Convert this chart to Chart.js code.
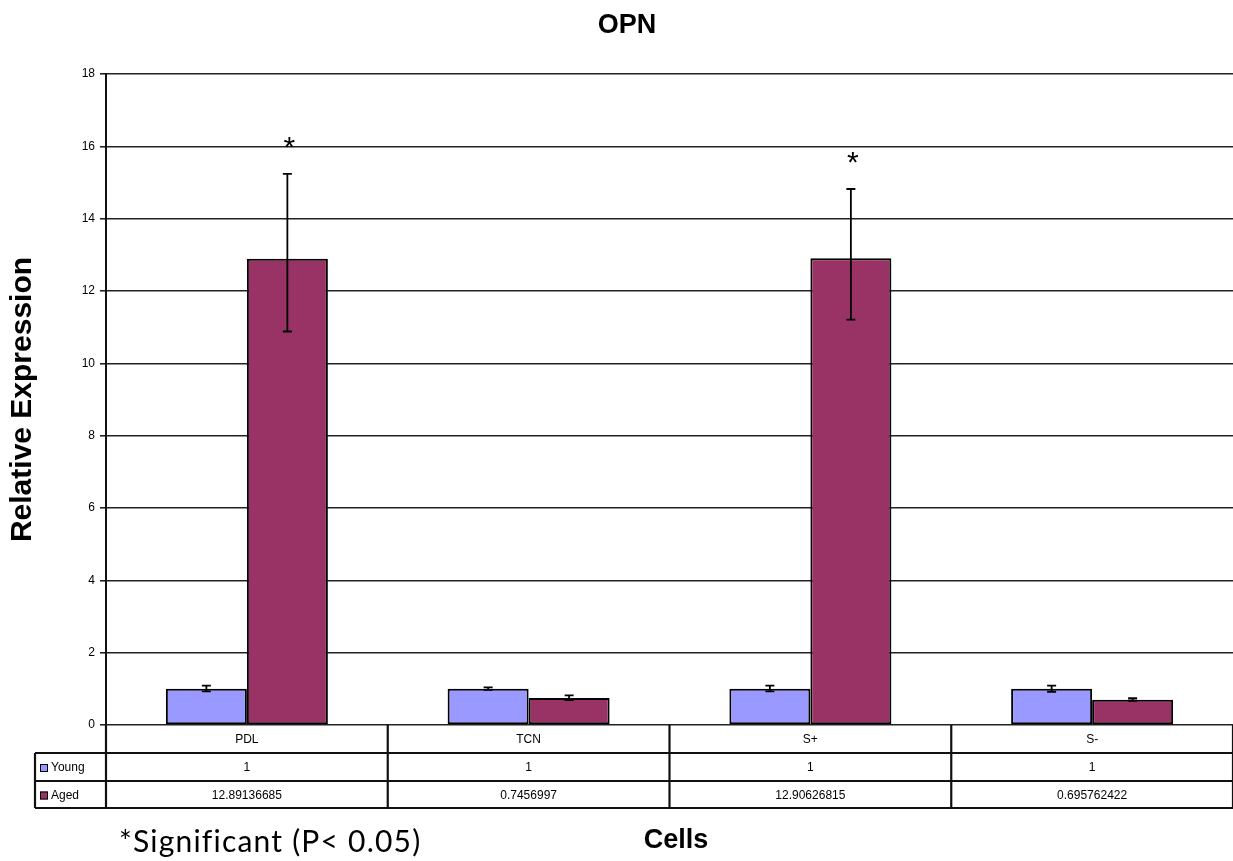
<!DOCTYPE html>
<html>
<head>
<meta charset="utf-8">
<title>OPN</title>
<script src="https://cdn.jsdelivr.net/npm/chart.js@4.4.1/dist/chart.umd.min.js"></script>
<style>
  html, body { margin: 0; padding: 0; background: #fff; }
  #wrap { width: 1233px; height: 861px; position: relative; }
</style>
</head>
<body>
<div id="wrap"><canvas id="chart" width="1233" height="861"></canvas></div>
<script>
// Cell types on the category axis
const categories = ['PDL', 'TCN', 'S+', 'S-'];

// Mean relative expression per group
const youngValues = [1, 1, 1, 1];
const agedValues = [12.89136685, 0.7456997, 12.90626815, 0.695762422];

// Error bar extents (low / high ends)
const youngErrLow = [0.93, 0.97, 0.93, 0.92];
const youngErrHigh = [1.09, 1.04, 1.09, 1.09];
const agedErrLow = [10.88, 0.69, 11.21, 0.67];
const agedErrHigh = [15.24, 0.82, 14.82, 0.74];

// Groups marked significant (aged vs young)
const significant = [true, false, true, false];

// Text shown in the data table rows
const youngLabels = ['1', '1', '1', '1'];
const agedLabels = ['12.89136685', '0.7456997', '12.90626815', '0.695762422'];

// Y axis ticks
const yMin = 0, yMax = 18, yStep = 2;

const YOUNG_COLOR = '#9999FF';
const AGED_COLOR = '#993366';
const BASE_FONT = '"Liberation Sans", Arial, sans-serif';

// Draws error bars and significance stars on top of the bars
const errorBarPlugin = {
  id: 'errorBars',
  afterDatasetsDraw(chart) {
    const ctx = chart.ctx;
    const y = chart.scales.y;
    const sets = [
      { meta: chart.getDatasetMeta(0), lo: youngErrLow, hi: youngErrHigh },
      { meta: chart.getDatasetMeta(1), lo: agedErrLow, hi: agedErrHigh }
    ];
    ctx.save();
    ctx.strokeStyle = '#000';
    ctx.lineWidth = 1.8;
    sets.forEach(s => {
      s.meta.data.forEach((bar, i) => {
        const x = bar.x;
        const yl = y.getPixelForValue(s.lo[i]);
        const yh = y.getPixelForValue(s.hi[i]);
        const cap = 4.5;
        ctx.beginPath();
        ctx.moveTo(x, yl); ctx.lineTo(x, yh);
        ctx.moveTo(x - cap, yl); ctx.lineTo(x + cap, yl);
        ctx.moveTo(x - cap, yh); ctx.lineTo(x + cap, yh);
        ctx.stroke();
      });
    });
    // significance stars above the aged error bars
    ctx.fillStyle = '#000';
    ctx.font = '30px ' + BASE_FONT;
    ctx.textAlign = 'center';
    ctx.textBaseline = 'alphabetic';
    chart.getDatasetMeta(1).data.forEach((bar, i) => {
      if (!significant[i]) return;
      const yh = y.getPixelForValue(agedErrHigh[i]);
      ctx.fillText('*', bar.x + 2, yh - 17);
    });
    ctx.restore();
  }
};

// Draws the chart title, the data table under the plot, the axis title and the footnote
const dataTablePlugin = {
  id: 'dataTable',
  afterDraw(chart) {
    const ctx = chart.ctx;
    const area = chart.chartArea;
    const xs = chart.scales.x;
    const n = categories.length;
    const catW = (area.right - area.left) / n;
    const rowTop = area.bottom;
    const rowH = [28, 28, 27];
    const r1 = rowTop + rowH[0];
    const r2 = r1 + rowH[1];
    const r3 = r2 + rowH[2];
    const tableLeft = 35;
    const right = chart.width;

    ctx.save();
    // chart title
    ctx.fillStyle = '#000';
    ctx.font = 'bold 27px ' + BASE_FONT;
    ctx.textAlign = 'center';
    ctx.textBaseline = 'alphabetic';
    ctx.fillText('OPN', 627, 33);

    ctx.strokeStyle = '#111';
    ctx.lineWidth = 2.2;
    ctx.beginPath();
    // horizontal rules
    [r1, r2, r3].forEach(yy => { ctx.moveTo(tableLeft, yy); ctx.lineTo(right, yy); });
    // vertical rules
    ctx.moveTo(tableLeft, r1); ctx.lineTo(tableLeft, r3);
    for (let i = 0; i <= n; i++) {
      const bx = area.left + i * catW;
      ctx.moveTo(bx, rowTop); ctx.lineTo(bx, r3);
    }
    ctx.stroke();

    // cell text
    ctx.fillStyle = '#000';
    ctx.font = '12px ' + BASE_FONT;
    ctx.textAlign = 'center';
    ctx.textBaseline = 'middle';
    categories.forEach((c, i) => {
      const cx = xs.getPixelForValue(i);
      ctx.fillText(c, cx, (rowTop + r1) / 2 + 1);
      ctx.fillText(youngLabels[i], cx, (r1 + r2) / 2 + 1);
      ctx.fillText(agedLabels[i], cx, (r2 + r3) / 2 + 1);
    });

    // legend keys in the row headers
    const keys = [
      { label: 'Young', color: YOUNG_COLOR, y: (r1 + r2) / 2 + 1 },
      { label: 'Aged', color: AGED_COLOR, y: (r2 + r3) / 2 + 1 }
    ];
    ctx.textAlign = 'left';
    ctx.lineWidth = 1;
    keys.forEach(k => {
      ctx.fillStyle = k.color;
      ctx.fillRect(40, k.y - 4, 8, 8);
      ctx.strokeStyle = '#000';
      ctx.strokeRect(40.5, k.y - 3.5, 7, 7);
      ctx.fillStyle = '#000';
      ctx.fillText(k.label, 51, k.y);
    });

    // x axis title
    ctx.font = 'bold 27px ' + BASE_FONT;
    ctx.textAlign = 'center';
    ctx.textBaseline = 'alphabetic';
    ctx.fillText('Cells', 676, 848);

    // footnote
    ctx.font = '30px Lato, "Open Sans", sans-serif';
    ctx.letterSpacing = '1.2px';
    ctx.textAlign = 'left';
    ctx.fillText('*Significant (P< 0.05)', 119, 852);
    ctx.restore();
  }
};

new Chart(document.getElementById('chart'), {
  type: 'bar',
  data: {
    labels: categories,
    datasets: [
      {
        label: 'Young',
        data: youngValues,
        backgroundColor: YOUNG_COLOR,
        borderColor: '#000',
        borderWidth: 2,
        borderSkipped: false
      },
      {
        label: 'Aged',
        data: agedValues,
        backgroundColor: AGED_COLOR,
        borderColor: '#000',
        borderWidth: 2,
        borderSkipped: false
      }
    ]
  },
  options: {
    responsive: false,
    animation: false,
    devicePixelRatio: 1,
    categoryPercentage: 0.575,
    barPercentage: 1,
    layout: { padding: { left: 0, right: 0, top: 74, bottom: 136 } },
    plugins: {
      legend: { display: false },
      tooltip: { enabled: false },
      title: { display: false }
    },
    scales: {
      x: {
        display: false
      },
      y: {
        min: yMin,
        max: yMax,
        afterFit(scale) { scale.width = 106; },
        ticks: {
          stepSize: yStep,
          color: '#000',
          padding: 5,
          font: { family: BASE_FONT, size: 12 }
        },
        grid: {
          color: '#222',
          lineWidth: 1.6,
          tickLength: 6,
          tickColor: '#222',
          drawTicks: true
        },
        border: { color: '#111', width: 2 },
        title: {
          display: true,
          text: 'Relative Expression',
          color: '#000',
          font: { family: BASE_FONT, size: 30, weight: 'bold' },
          padding: { top: 5, bottom: 0 }
        }
      }
    }
  },
  plugins: [errorBarPlugin, dataTablePlugin]
});
</script>
</body>
</html>
